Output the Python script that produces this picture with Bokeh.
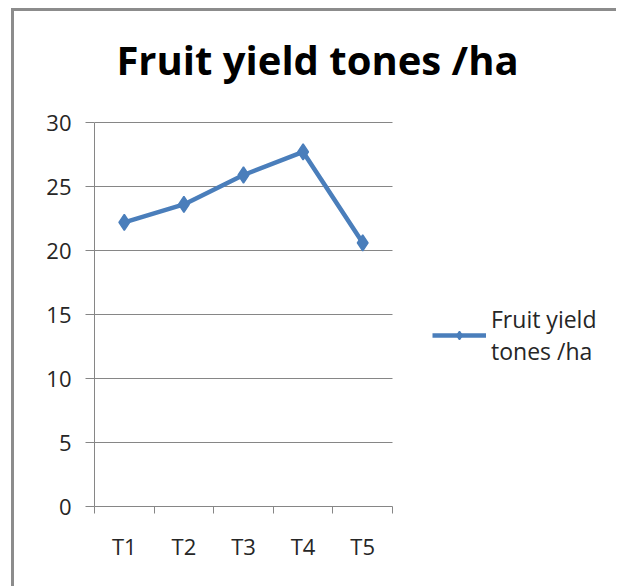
from bokeh.plotting import figure
from bokeh.models import Range1d, FixedTicker, Legend, LegendItem, Label
from bokeh.embed import file_html
from bokeh.resources import INLINE

categories = ["T1", "T2", "T3", "T4", "T5"]
yield_values = [22.2, 23.6, 25.9, 27.7, 20.6]
y_ticks = [0, 5, 10, 15, 20, 25, 30]
series_name = "Fruit yield\ntones /ha"
title_text = "Fruit yield tones /ha"

xs = [i + 0.5 for i in range(len(categories))]
n = len(categories)
y_max = y_ticks[-1]

FONT = "Open Sans"
GRID = "#868686"
BLUE = "#4a7ebb"

PLOT_W = 298      # pixel width of the category area
PLOT_H = 384      # pixel height of the 0..30 value area
FRAME_W = 522     # frame extends right so the legend sits inside it
FRAME_H = 495     # frame extends up so the title sits inside it
x_end = n * FRAME_W / PLOT_W
y_end = y_max * FRAME_H / PLOT_H

p = figure(frame_width=FRAME_W, frame_height=FRAME_H, output_backend="svg",
           toolbar_location=None,
           x_range=Range1d(0, x_end), y_range=Range1d(0, y_end),
           min_border_left=80, min_border_right=0, min_border_top=0,
           min_border_bottom=80)
p.styles = {"border-left": "3px solid #8c8c8c", "border-top": "3px solid #8c8c8c",
            "margin-left": "11px", "margin-top": "8px"}
p.outline_line_color = None
p.background_fill_color = "white"
p.border_fill_color = "white"

# x axis: labels at category centres, tick marks at boundaries
xa = p.xaxis[0]
xa.bounds = (0, n)
xa.ticker = FixedTicker(ticks=xs, minor_ticks=list(range(n + 1)))
xa.major_label_overrides = {x: c for x, c in zip(xs, categories)}
xa.major_tick_out = 0
xa.major_tick_in = 0
xa.minor_tick_out = 7
xa.minor_tick_in = 0
xa.minor_tick_line_color = GRID
xa.axis_line_color = GRID
xa.major_label_standoff = 17
xa.major_label_text_font = FONT
xa.major_label_text_font_size = "22px"
xa.major_label_text_color = "#262626"

ya = p.yaxis[0]
ya.bounds = (0, y_max)
ya.ticker = FixedTicker(ticks=y_ticks)
ya.major_tick_out = 9
ya.major_tick_in = 0
ya.minor_tick_out = 0
ya.minor_tick_in = 0
ya.major_tick_line_color = GRID
ya.axis_line_color = GRID
ya.major_label_standoff = 14
ya.major_label_text_font = FONT
ya.major_label_text_font_size = "22px"
ya.major_label_text_color = "#262626"

p.xgrid.visible = False
p.ygrid.grid_line_color = GRID
p.ygrid.grid_line_width = 1
p.ygrid.ticker = FixedTicker(ticks=y_ticks)
p.ygrid.cross_bounds = (0, n)

ln = p.line(xs, yield_values, line_color=BLUE, line_width=4.5)
mk = p.scatter(xs, yield_values, marker="diamond", size=16,
               fill_color=BLUE, line_color=BLUE, line_width=1.5)

legend = Legend(items=[LegendItem(label=series_name, renderers=[ln, mk])],
                location=(338, 139), glyph_width=54, glyph_height=20,
                padding=0, margin=0, spacing=0, label_standoff=5,
                border_line_color=None, background_fill_alpha=0,
                label_text_font=FONT, label_text_font_size="23px",
                label_text_color="#262626", label_text_line_height=1.35)
p.add_layout(legend, "center")

title = Label(x=223, y=447, x_units="screen", y_units="screen", text=title_text,
              text_align="center", text_baseline="alphabetic",
              text_font=FONT, text_font_style="bold", text_font_size="40px",
              text_color="#000000")
p.add_layout(title)

open("out.html", "w").write(file_html(p, INLINE))
